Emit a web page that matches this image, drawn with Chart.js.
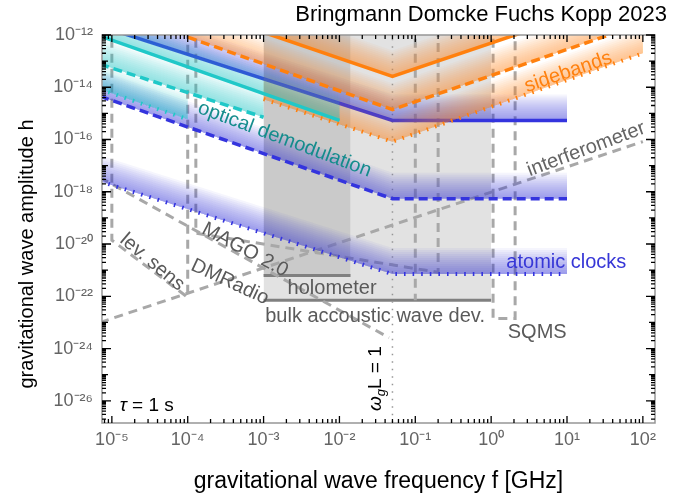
<!DOCTYPE html>
<html><head><meta charset="utf-8">
<script src="https://cdn.jsdelivr.net/npm/chart.js@4/dist/chart.umd.min.js"></script>
<style>html,body{margin:0;padding:0;background:#fff}</style>
</head><body>
<canvas id="c" width="673" height="498"></canvas>
<script>
// ---------- data (frequency in GHz, strain h) ----------
const blueSolidF = [7e-6, 0.05, 10];
const blueSolidH = [2.2e-12, 5.4e-16, 5.4e-16];
const blueDashF = [7e-6, 0.05, 10];
const blueDashH = [4.5e-15, 5.4e-19, 5.4e-19];
const blueDotF = [7e-6, 0.05, 10];
const blueDotH = [2.5e-18, 7.1e-22, 7.1e-22];

const cyanSolidF = [7e-6, 1e-2];
const cyanSolidH = [9.1e-13, 5.4e-16];
const cyanDashF = [7e-6, 1e-3];
const cyanDashH = [7.6e-14, 7.1e-16];
const cyanDotF = [7e-6, 1e-4];
const cyanDotH = [8.3e-15, 5.9e-16];

const orangeSolidF = [1e-3, 0.05, 100];
const orangeSolidH = [1.26e-12, 2.6e-14, 4.5e-11];
const orangeDashF = [1e-4, 0.05, 100];
const orangeDashH = [8.3e-13, 1.4e-15, 2.8e-12];
const orangeDotF = [1e-3, 0.05, 100];
const orangeDotH = [3.5e-15, 8.3e-17, 2e-13];

// existing / proposed detectors (grey)
const interferometerF = [7e-6, 100];
const interferometerH = [1e-23, 8.3e-17];
const levSensF = [1e-5, 1e-5, 1e-4, 1e-4];
const levSensH = [1e-11, 1.4e-20, 9.1e-23, 1e-11];
const magoF = [7e-6, 0.045];
const magoH = [3.5e-18, 2.6e-24];
const dmRadioF = [1.28e-4, 1.28e-4, 0.2, 0.2];
const dmRadioH = [1e-11, 2.6e-20, 8.3e-22, 1e-11];
const vert100MHzF = [0.1, 0.1];
const vert100MHzH = [1e-11, 7e-23];
const bawF = [1e-3, 1.0];
const bawH = [7e-23, 7e-23];
const holometerF = [1e-3, 1.4e-2];
const holometerH = [6.3e-22, 6.3e-22];
const sqmsF = [1.06, 1.06, 2.07, 2.07];
const sqmsH = [1e-11, 1.4e-23, 1.4e-23, 1e-11];
const omegaLF = [0.05, 0.05];
const omegaLH = [1e-11, 1e-28];

const xTickExp = [-5, -4, -3, -2, -1, 0, 1, 2];
const yTickExp = [-26, -24, -22, -20, -18, -16, -14, -12];

// ---------- styling ----------
const BLUE = 'rgb(52,52,222)', CYAN = 'rgb(32,200,200)', ORANGE = 'rgb(255,128,14)', GREY = 'rgb(168,168,168)';
const FONT = "'Liberation Sans', Arial, sans-serif";
const SUP = {'-':'\u207B','0':'\u2070','1':'\u00B9','2':'\u00B2','3':'\u00B3','4':'\u2074','5':'\u2075','6':'\u2076','7':'\u2077','8':'\u2078','9':'\u2079'};
const sup = e => String(e).split('').map(c => SUP[c]).join('');
const pts = (F, H) => F.map((f, i) => ({x: f, y: H[i]}));

function line(F, H, color, style, order, shade) {
  const ds = {data: pts(F, H), borderColor: color, backgroundColor: color, pointRadius: 0, tension: 0, clip: 0, fill: false, order: order, borderCapStyle: 'butt'};
  if (style === 'solid') { ds.borderWidth = 3.5; }
  if (style === 'dash') { ds.borderWidth = 3.5; ds.borderDash = [9, 5]; }
  if (style === 'dot') { ds.borderWidth = 4; ds.borderDash = [1.6, 7]; }
  if (style === 'grey') { ds.borderWidth = 3; ds.borderDash = [9, 6]; }
  if (style === 'thindot') { ds.borderWidth = 1.5; ds.borderDash = [1.5, 6]; }
  if (shade) ds.shade = shade;
  return ds;
}

const datasets = [
  {data: pts(bawF, bawH), borderColor: 'rgb(128,128,128)', borderWidth: 3, backgroundColor: 'rgb(226,226,226)', fill: 'end', pointRadius: 0, clip: 0, order: 20},
  {data: pts(holometerF, holometerH), borderColor: 'rgb(128,128,128)', borderWidth: 3, backgroundColor: 'rgb(202,202,202)', fill: 'end', pointRadius: 0, clip: 0, order: 19},
  line(omegaLF, omegaLH, 'rgb(150,150,150)', 'thindot', 18),
  line(interferometerF, interferometerH, GREY, 'grey', 15),
  line(levSensF, levSensH, GREY, 'grey', 15),
  line(magoF, magoH, GREY, 'grey', 15),
  line(dmRadioF, dmRadioH, GREY, 'grey', 15),
  line(vert100MHzF, vert100MHzH, GREY, 'grey', 15),
  line(sqmsF, sqmsH, GREY, 'grey', 15),
  line(blueDotF, blueDotH, BLUE, 'dot', 9, [52,52,222]),
  line(blueDashF, blueDashH, BLUE, 'dash', 8, [52,52,222]),
  line(blueSolidF, blueSolidH, BLUE, 'solid', 7, [52,52,222]),
  line(orangeDotF, orangeDotH, ORANGE, 'dot', 6, [255,140,40]),
  line(orangeDashF, orangeDashH, ORANGE, 'dash', 5, [255,140,40]),
  line(orangeSolidF, orangeSolidH, ORANGE, 'solid', 4, [255,140,40]),
  line(cyanDotF, cyanDotH, CYAN, 'dot', 3, [40,205,205]),
  line(cyanDashF, cyanDashH, CYAN, 'dash', 2, [40,205,205]),
  line(cyanSolidF, cyanSolidH, CYAN, 'solid', 1, [40,205,205]),
];

// text annotations placed in data coordinates
const notes = [
  {t: 'sidebands', f: 10.4, h: 3.8e-14, rot: -19, c: ORANGE, s: 20},
  {t: 'optical demodulation', f: 1.9e-3, h: 1e-16, rot: 20.5, c: 'rgb(20,140,140)', s: 20},
  {t: 'interferometer', f: 17.9, h: 4.2e-17, rot: -20.5, c: 'rgb(100,100,100)', s: 20},
  {t: 'atomic clocks', f: 9.8, h: 1.9e-21, rot: 0, c: 'rgb(55,55,215)', s: 20},
  {t: 'SQMS', f: 4.05, h: 4.2e-24, rot: 0, c: 'rgb(90,90,90)', s: 20},
  {t: 'bulk accoustic wave dev.', f: 0.0295, h: 1.7e-23, rot: 0, c: 'rgb(90,90,90)', s: 20},
  {t: 'holometer', f: 8e-3, h: 2.0e-22, rot: 0, c: 'rgb(90,90,90)', s: 20},
  {t: 'MAGO 2.0', f: 5.7e-4, h: 5.9e-21, rot: 28, c: 'rgb(90,90,90)', s: 20},
  {t: 'DMRadio', f: 3.6e-4, h: 3.5e-22, rot: 25, c: 'rgb(90,90,90)', s: 20},
  {t: 'lev. sens', f: 3.4e-5, h: 2.0e-21, rot: 40, c: 'rgb(90,90,90)', s: 20},
];
const tauNote = {f: 1.27e-5, h: 6.5e-27, s: 19};
const omegaNote = {f: 0.0286, h: 7e-26, s: 19};

const shadePlugin = {
  id: 'shade',
  beforeDatasetDraw(chart, args) {
    const ds = chart.data.datasets[args.index];
    if (!ds.shade) return;
    const p = args.meta.data;
    const ctx = chart.ctx, a = chart.chartArea;
    const [r, g, b] = ds.shade;
    ctx.save();
    ctx.beginPath(); ctx.rect(a.left, a.top, a.right - a.left, a.bottom - a.top); ctx.clip();
    const N = 13, step = 2;
    for (let k = 1; k <= N; k++) {
      ctx.beginPath();
      ctx.moveTo(p[0].x, p[0].y);
      for (let i = 1; i < p.length; i++) ctx.lineTo(p[i].x, p[i].y);
      for (let i = p.length - 1; i >= 0; i--) ctx.lineTo(p[i].x, p[i].y - k * step);
      ctx.closePath();
      ctx.fillStyle = `rgba(${r},${g},${b},0.05)`;
      ctx.fill();
    }
    ctx.restore();
  }
};

const framePlugin = {
  id: 'frame',
  afterDatasetsDraw(chart) {
    const ctx = chart.ctx, a = chart.chartArea, xs = chart.scales.x, ys = chart.scales.y;
    ctx.save();
    for (const n of notes) {
      const x = xs.getPixelForValue(n.f), y = ys.getPixelForValue(n.h);
      ctx.save();
      ctx.translate(x, y); ctx.rotate(n.rot * Math.PI / 180);
      ctx.font = `${n.s}px ${FONT}`; ctx.fillStyle = n.c;
      ctx.textAlign = 'center'; ctx.textBaseline = 'middle';
      ctx.fillText(n.t, 0, 0);
      ctx.restore();
    }
    // tau = 1 s
    {
      const x = xs.getPixelForValue(tauNote.f), y = ys.getPixelForValue(tauNote.h);
      ctx.fillStyle = '#000'; ctx.textAlign = 'left'; ctx.textBaseline = 'middle';
      ctx.font = `italic ${tauNote.s}px ${FONT}`; ctx.fillText('\u03C4', x, y);
      const w = ctx.measureText('\u03C4').width;
      ctx.font = `${tauNote.s}px ${FONT}`; ctx.fillText(' = 1 s', x + w, y);
    }
    // omega_g L = 1 (rotated, with subscript g)
    {
      const x = xs.getPixelForValue(omegaNote.f), y = ys.getPixelForValue(omegaNote.h);
      ctx.save();
      ctx.translate(x, y); ctx.rotate(-Math.PI / 2);
      ctx.fillStyle = '#000'; ctx.textBaseline = 'alphabetic'; ctx.textAlign = 'left';
      const big = `italic ${omegaNote.s}px ${FONT}`, small = `italic ${Math.round(omegaNote.s * 0.7)}px ${FONT}`, reg = `${omegaNote.s}px ${FONT}`;
      ctx.font = big; const w1 = ctx.measureText('\u03C9').width;
      ctx.font = reg; const w3 = ctx.measureText('L = 1').width;
      ctx.font = small; const w2 = ctx.measureText('g').width;
      let x0 = -(w1 + w2 + w3) / 2; const base = 7;
      ctx.font = big; ctx.fillText('\u03C9', x0, base); x0 += w1;
      ctx.font = small; ctx.fillText('g', x0, base + 4); x0 += w2;
      ctx.font = reg; ctx.fillText('L = 1', x0, base);
      ctx.restore();
    }
    ctx.strokeStyle = 'rgb(150,150,150)'; ctx.lineWidth = 1.5;
    ctx.strokeRect(a.left, a.top, a.right - a.left, a.bottom - a.top);
    ctx.strokeStyle = '#000'; ctx.lineWidth = 1.3;
    ctx.beginPath();
    for (let e = -6; e <= 2; e++) for (let m = 1; m <= 9; m++) {
      const v = m * Math.pow(10, e);
      if (v < xs.min || v > xs.max) continue;
      const x = xs.getPixelForValue(v), L = m === 1 ? 7 : 4;
      ctx.moveTo(x, a.bottom); ctx.lineTo(x, a.bottom - L);
      ctx.moveTo(x, a.top); ctx.lineTo(x, a.top + L);
    }
    for (let e = -28; e <= -11; e++) for (let m = 1; m <= 9; m++) {
      const v = m * Math.pow(10, e);
      if (v < ys.min || v > ys.max) continue;
      const y = ys.getPixelForValue(v), L = m === 1 ? (e % 2 === 0 ? 9 : 6) : 4;
      ctx.moveTo(a.left, y); ctx.lineTo(a.left + L, y);
      ctx.moveTo(a.right, y); ctx.lineTo(a.right - L, y);
    }
    ctx.stroke();
    ctx.restore();
  }
};

const NB = '\u00A0';
new Chart(document.getElementById('c'), {
  type: 'line',
  data: {datasets},
  options: {
    responsive: false, animation: false, devicePixelRatio: 1,
    layout: {padding: {left: 0, right: 6, top: 0, bottom: 0}},
    plugins: {
      legend: {display: false}, tooltip: {enabled: false},
      title: {display: true, text: 'Bringmann Domcke Fuchs Kopp 2023', align: 'end', color: '#000',
              font: {family: FONT, size: 22, weight: 'normal'}, padding: {top: 2, bottom: 6.6}}
    },
    scales: {
      x: {type: 'logarithmic', min: Math.pow(10, -5.13), max: Math.pow(10, 2.16),
          afterFit: s => { s.height = 75; },
          afterBuildTicks: s => { s.ticks = xTickExp.map(e => ({value: Math.pow(10, e)})); },
          ticks: {callback: v => '10' + sup(Math.round(Math.log10(v))), color: 'rgb(100,100,100)', font: {family: FONT, size: 18}, padding: 6, maxRotation: 0, autoSkip: false},
          grid: {drawOnChartArea: false, drawTicks: false}, border: {display: false},
          title: {display: true, text: 'gravitational wave frequency f [GHz]', color: '#000', font: {family: FONT, size: 23}, padding: {top: 0, bottom: 3}}},
      y: {type: 'logarithmic', min: Math.pow(10, -26.85), max: 1e-12,
          afterFit: s => { s.width = 102; },
          afterBuildTicks: s => { s.ticks = yTickExp.map(e => ({value: Math.pow(10, e)})); },
          ticks: {callback: v => '10' + sup(Math.round(Math.log10(v))), color: 'rgb(100,100,100)', font: {family: FONT, size: 18}, padding: 9, autoSkip: false},
          grid: {drawOnChartArea: false, drawTicks: false}, border: {display: false},
          title: {display: true, text: 'gravitational wave amplitude h' + NB.repeat(9), color: '#000', font: {family: FONT, size: 20}, padding: {top: 15, bottom: 0}}},
      y2: {type: 'linear', position: 'right', afterFit: s => { s.width = 12; }, ticks: {display: false}, grid: {display: false}, border: {display: false}}
    }
  },
  plugins: [shadePlugin, framePlugin]
});
</script>
</body></html>
